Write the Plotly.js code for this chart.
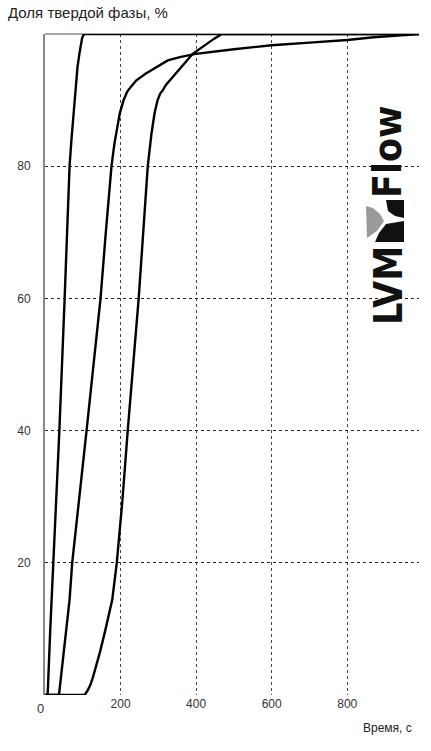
<!DOCTYPE html>
<html>
<head>
<meta charset="utf-8">
<script src="https://cdn.plot.ly/plotly-3.0.1.min.js"></script>
<style>html,body{margin:0;padding:0;background:#fff;}#chart{width:431px;height:751px;}</style>
</head>
<body>
<div id="chart"></div>
<script>
// Time, s and solid fraction, % for three curves
var t1 = [0, 7, 14, 22, 38, 52, 65, 70, 74, 78, 81, 86, 91, 95, 98, 101, 105, 990];
var y1 = [0, 0, 10, 20, 40, 60, 80, 84, 87, 90, 92, 95, 97, 98.5, 99.3, 99.8, 100, 100];

var t2 = [0, 37, 65, 72, 110, 147, 161, 176, 184, 190, 198, 208, 217, 227, 242, 266, 295, 325, 357, 399, 500, 600, 700, 800, 870, 930, 990];
var y2 = [0, 0, 14.4, 20, 40, 60, 70, 80, 83.5, 85.4, 88, 90, 91.2, 92, 93, 94, 95, 96, 96.5, 97, 97.7, 98.3, 98.7, 99.1, 99.5, 99.8, 100];

var t3 = [0, 105, 112, 120, 127, 135, 146, 158, 168, 178, 190, 205, 219, 248, 272, 282, 290, 298, 305, 312, 320, 330, 345, 361, 391, 410, 427, 448, 468, 990];
var y3 = [0, 0, 0.6, 1.5, 2.7, 4.2, 6.6, 9.4, 11.9, 14.4, 20, 29.5, 40, 60, 80, 85, 88, 90, 91, 91.5, 92.3, 93, 94, 95, 97, 97.8, 98.5, 99.3, 100, 100];

var xTicks = [200, 400, 600, 800];
var yTicks = [0, 20, 40, 60, 80];
var yTickText = ["", "20", "40", "60", "80"];

var L = 45, R = 419, T = 34, B = 695;
function fx(px){ return (px - L) / (R - L); }
function fy(py){ return (B - py) / (B - T); }
function path(pts){
  return pts.map(function(p, i){ return (i ? "L" : "M") + fx(p[0]).toFixed(4) + "," + fy(p[1]).toFixed(4); }).join(" ") + " Z";
}

var lineStyle = {color: "#000", width: 2.4, shape: "linear"};
var traces = [
  {x: t1, y: y1, mode: "lines", line: lineStyle, cliponaxis: false, hoverinfo: "skip"},
  {x: t2, y: y2, mode: "lines", line: lineStyle, cliponaxis: false, hoverinfo: "skip"},
  {x: t3, y: y3, mode: "lines", line: lineStyle, cliponaxis: false, hoverinfo: "skip"}
];

var tickFont = {family: "Liberation Sans, Arial, sans-serif", size: 12, color: "#333"};
var logoFont = {family: "Liberation Sans Narrow, DejaVu Sans Condensed, Liberation Sans, sans-serif", size: 39, color: "#111", weight: "bold"};

var layout = {
  width: 431, height: 751,
  margin: {l: L, r: 431 - R, t: T, b: 751 - B, pad: 0},
  paper_bgcolor: "#fff", plot_bgcolor: "#fff",
  showlegend: false,
  title: {
    text: "Доля твердой фазы, %",
    font: {family: "Liberation Sans, Arial, sans-serif", size: 15, color: "#222"},
    x: 8 / 431, xanchor: "left", xref: "container",
    y: 1 - 13 / 751, yanchor: "middle", yref: "container"
  },
  xaxis: {
    range: [0, 990], fixedrange: true,
    tickvals: xTicks, ticks: "", tickfont: tickFont,
    showgrid: true, gridcolor: "#444", gridwidth: 1, griddash: "dot",
    zeroline: false, showline: false
  },
  yaxis: {
    range: [0, 100], fixedrange: true,
    tickvals: yTicks, ticktext: yTickText, ticks: "", tickfont: tickFont,
    ticklabelstandoff: 10,
    showgrid: true, gridcolor: "#222", gridwidth: 1, griddash: "3px,3px",
    zeroline: false, showline: true, linecolor: "#888", linewidth: 2
  },
  annotations: [
    {text: "0", xref: "paper", yref: "paper", x: fx(40), y: fy(708), xanchor: "center", yanchor: "middle",
     showarrow: false, font: {family: "Liberation Sans, Arial, sans-serif", size: 13, color: "#333"}},
    {text: "Время, с", xref: "paper", yref: "paper", x: fx(414), y: fy(728), xanchor: "right", yanchor: "middle",
     showarrow: false, font: {family: "Liberation Sans, Arial, sans-serif", size: 12, color: "#222"}},
    {text: "Flow", xref: "paper", yref: "paper", x: fx(388), y: fy(152), xanchor: "center", yanchor: "middle",
     textangle: -90, showarrow: false, font: logoFont},
    {text: "LVM", xref: "paper", yref: "paper", x: fx(388), y: fy(286), xanchor: "center", yanchor: "middle",
     textangle: -90, showarrow: false, font: logoFont}
  ],
  shapes: [
    {type: "line", xref: "paper", yref: "paper", x0: 0, x1: 1, y0: 1, y1: 1, line: {color: "#888", width: 1.5}, layer: "below"},
    {type: "path", xref: "paper", yref: "paper", path: path([[366,206],[373,208],[380,214],[384,221],[377,231],[367,238]]),
     fillcolor: "#9a9a9a", line: {width: 0}},
    {type: "path", xref: "paper", yref: "paper", path: path([[386,200],[404,200],[404,218],[395,216],[388,211]]),
     fillcolor: "#111", line: {width: 0}},
    {type: "path", xref: "paper", yref: "paper", path: path([[386,224],[404,221],[404,242],[375,242],[379,233]]),
     fillcolor: "#111", line: {width: 0}}
  ]
};

Plotly.newPlot("chart", traces, layout, {staticPlot: true, displayModeBar: false});
</script>
</body>
</html>
